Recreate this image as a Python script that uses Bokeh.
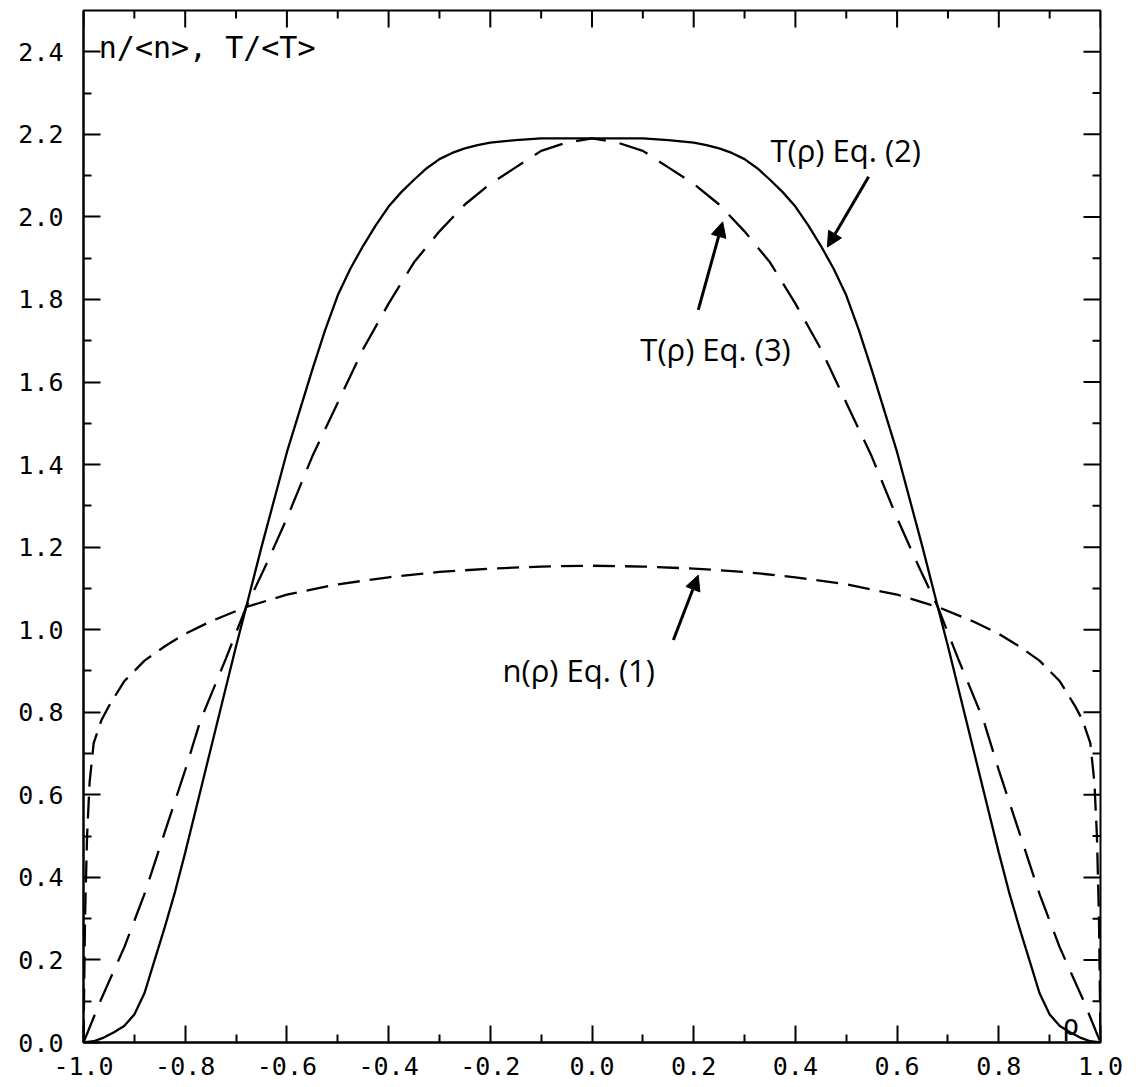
import math
from bokeh.plotting import figure
from bokeh.models import FixedTicker, Label, Arrow, NormalHead
from bokeh.embed import file_html
from bokeh.resources import INLINE

# ---- data ----
rho_T2 = [-1.0, -0.98, -0.96, -0.94, -0.92, -0.9, -0.88, -0.86, -0.84, -0.82, -0.8, -0.77,
          -0.74, -0.7, -0.68, -0.65, -0.6, -0.55, -0.525, -0.5, -0.475, -0.45, -0.425, -0.4,
          -0.375, -0.35, -0.325, -0.3, -0.275, -0.25, -0.225, -0.2, -0.15, -0.1, -0.05, 0.0,
          0.05, 0.1, 0.15, 0.2, 0.225, 0.25, 0.275, 0.3, 0.325, 0.35, 0.375, 0.4, 0.425,
          0.45, 0.475, 0.5, 0.525, 0.55, 0.6, 0.65, 0.68, 0.7, 0.74, 0.77, 0.8, 0.82, 0.84,
          0.86, 0.88, 0.9, 0.92, 0.94, 0.96, 0.98, 1.0]
T_eq2 = [0.0, 0.003, 0.012, 0.025, 0.04, 0.068, 0.12, 0.2, 0.28, 0.365, 0.46, 0.61,
         0.76, 0.96, 1.055, 1.2, 1.43, 1.63, 1.725, 1.81, 1.875, 1.93, 1.98, 2.025,
         2.06, 2.09, 2.118, 2.14, 2.155, 2.166, 2.174, 2.18, 2.186, 2.19, 2.19, 2.19,
         2.19, 2.19, 2.186, 2.18, 2.174, 2.166, 2.155, 2.14, 2.118, 2.09, 2.06, 2.025, 1.98,
         1.93, 1.875, 1.81, 1.725, 1.63, 1.43, 1.2, 1.055, 0.96, 0.76, 0.61, 0.46, 0.365, 0.28,
         0.2, 0.12, 0.068, 0.04, 0.025, 0.012, 0.003, 0.0]

rho_T3 = [-1.0, -0.967, -0.92, -0.88, -0.84, -0.8, -0.77, -0.72, -0.68, -0.64, -0.6, -0.55,
          -0.5, -0.45, -0.4, -0.35, -0.3, -0.25, -0.2, -0.15, -0.1, -0.05, 0.0,
          0.05, 0.1, 0.15, 0.2, 0.25, 0.3, 0.35, 0.4, 0.45, 0.5, 0.55, 0.6, 0.64, 0.68,
          0.72, 0.77, 0.8, 0.84, 0.88, 0.92, 0.967, 1.0]
T_eq3 = [0.0, 0.10, 0.23, 0.36, 0.51, 0.66, 0.78, 0.93, 1.055, 1.16, 1.27, 1.42,
         1.55, 1.68, 1.79, 1.89, 1.965, 2.03, 2.08, 2.12, 2.16, 2.18, 2.19,
         2.18, 2.16, 2.12, 2.08, 2.03, 1.965, 1.89, 1.79, 1.68, 1.55, 1.42, 1.27, 1.16, 1.055,
         0.93, 0.78, 0.66, 0.51, 0.36, 0.23, 0.10, 0.0]

rho_n = [-1.0, -0.997, -0.993, -0.988, -0.98, -0.965, -0.95, -0.92, -0.88, -0.84, -0.8,
         -0.75, -0.68, -0.6, -0.5, -0.4, -0.3, -0.2, -0.1, 0.0,
         0.1, 0.2, 0.3, 0.4, 0.5, 0.6, 0.68, 0.75, 0.8, 0.84, 0.88, 0.92, 0.95,
         0.965, 0.98, 0.988, 0.993, 0.997, 1.0]
n_eq1 = [0.0, 0.3, 0.5, 0.63, 0.725, 0.78, 0.815, 0.875, 0.925, 0.96, 0.99,
         1.02, 1.055, 1.085, 1.11, 1.127, 1.14, 1.148, 1.153, 1.155,
         1.153, 1.148, 1.14, 1.127, 1.11, 1.085, 1.055, 1.02, 0.99, 0.96, 0.925, 0.875, 0.815,
         0.78, 0.725, 0.63, 0.5, 0.3, 0.0]

x_ticks = [-1.0, -0.8, -0.6, -0.4, -0.2, 0.0, 0.2, 0.4, 0.6, 0.8, 1.0]
x_tick_labels = ["-1.0", "-0.8", "-0.6", "-0.4", "-0.2", "0.0", "0.2", "0.4", "0.6", "0.8", "1.0"]
x_minor = [-0.9, -0.7, -0.5, -0.3, -0.1, 0.1, 0.3, 0.5, 0.7, 0.9]
y_ticks = [0.0, 0.2, 0.4, 0.6, 0.8, 1.0, 1.2, 1.4, 1.6, 1.8, 2.0, 2.2, 2.4]
y_tick_labels = ["0.0", "0.2", "0.4", "0.6", "0.8", "1.0", "1.2", "1.4", "1.6", "1.8", "2.0", "2.2", "2.4"]
y_minor = [0.1, 0.3, 0.5, 0.7, 0.9, 1.1, 1.3, 1.5, 1.7, 1.9, 2.1, 2.3]

X_MIN, X_MAX = -1.0, 1.0
Y_MIN, Y_MAX = 0.0, 2.5

y_axis_title = "n/<n>, T/<T>"
x_axis_title = "ρ"

annotations = [
    # text, text x, text baseline y, arrow start (x,y), arrow end (x,y)
    ("T(ρ) Eq. (2)", 0.351, 2.162, (0.544, 2.097), (0.463, 1.927)),
    ("T(ρ) Eq. (3)", 0.095, 1.680, (0.209, 1.775), (0.257, 1.988)),
    ("n(ρ) Eq. (1)", -0.176, 0.902, (0.160, 0.975), (0.209, 1.132)),
]

# ---- figure ----
p = figure(width=1136, height=1079, x_range=(X_MIN, X_MAX), y_range=(Y_MIN, Y_MAX),
           output_backend="svg", toolbar_location=None,
           min_border_left=83, min_border_right=36, min_border_top=10, min_border_bottom=37)
p.xgrid.visible = False
p.ygrid.visible = False
p.outline_line_color = "black"
p.outline_line_width = 2
p.background_fill_color = "white"
p.border_fill_color = "white"

def style_axis(ax, ticks, minor, labels, standoff):
    ax.ticker = FixedTicker(ticks=ticks, minor_ticks=minor)
    ax.axis_line_color = "black"
    ax.axis_line_width = 2
    ax.major_tick_line_color = "black"
    ax.major_tick_line_width = 2
    ax.minor_tick_line_color = "black"
    ax.minor_tick_line_width = 2
    ax.major_tick_in = 17
    ax.major_tick_out = 0
    ax.minor_tick_in = 8
    ax.minor_tick_out = 0
    ax.major_label_standoff = standoff
    ax.major_label_overrides = {t: l for t, l in zip(ticks, labels)}
    ax.major_label_text_font = "DejaVu Sans Mono"
    ax.major_label_text_font_size = "25px"
    ax.major_label_text_color = "black"

style_axis(p.xaxis[0], x_ticks, x_minor, x_tick_labels, 14)
style_axis(p.yaxis[0], y_ticks, y_minor, y_tick_labels, 20)

# mirrored inward ticks on the top and right frame edges
p.ray(x=x_ticks, y=[Y_MAX] * len(x_ticks), length=17, length_units="screen",
      angle=-math.pi / 2, line_color="black", line_width=2)
p.ray(x=x_minor, y=[Y_MAX] * len(x_minor), length=8, length_units="screen",
      angle=-math.pi / 2, line_color="black", line_width=2)
p.ray(x=[X_MAX] * len(y_ticks), y=y_ticks, length=17, length_units="screen",
      angle=math.pi, line_color="black", line_width=2)
p.ray(x=[X_MAX] * len(y_minor), y=y_minor, length=8, length_units="screen",
      angle=math.pi, line_color="black", line_width=2)

# ---- curves ----
p.line(rho_T2, T_eq2, line_color="black", line_width=2.3)
p.line(rho_T3, T_eq3, line_color="black", line_width=2.3, line_dash="30 14")
p.line(rho_n, n_eq1, line_color="black", line_width=2.3, line_dash="22 10")

# ---- texts ----
p.add_layout(Label(x=-0.97, y=2.41, text=y_axis_title, text_font="DejaVu Sans Mono",
                   text_font_size="30px", text_color="black", text_baseline="alphabetic"))
p.add_layout(Label(x=0.925, y=0.041, text=x_axis_title, text_font="DejaVu Sans Mono",
                   text_font_size="28px", text_color="black", text_baseline="alphabetic"))

for txt, tx, ty, (xs, ys), (xe, ye) in annotations:
    p.add_layout(Label(x=tx, y=ty, text=txt, text_font="Open Sans", text_font_size="31px",
                       text_color="black", text_baseline="alphabetic"))
    p.add_layout(Arrow(end=NormalHead(size=15, fill_color="black", line_color="black"),
                       x_start=xs, y_start=ys, x_end=xe, y_end=ye,
                       line_color="black", line_width=3))

open("out.html", "w").write(file_html(p, INLINE))
